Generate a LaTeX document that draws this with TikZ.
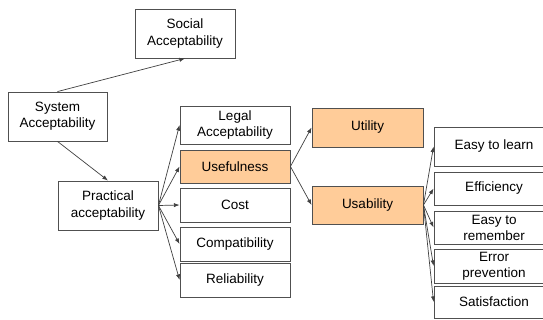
\documentclass[tikz,border=0pt]{standalone}
\usepackage{fontspec}
\setmainfont{Liberation Sans}
\usepackage{tikz}
\usetikzlibrary{arrows.meta}
\definecolor{boxorange}{HTML}{FFCC99}
\definecolor{boxline}{HTML}{505050}
\tikzset{
    box/.style={draw=boxline, line width=0.6pt, rectangle, inner sep=0pt, align=center,
        font=\fontsize{9.6}{11.4}\selectfont},
    hot/.style={box, fill=boxorange},
    link/.style={draw=black!75, line width=0.5pt, -{Latex[length=4pt,width=3pt]}}
}

\begin{document}
\begin{tikzpicture}[x=0.025cm,y=-0.025cm]
\useasboundingbox (0,0) rectangle (543,320);
% top part
\node[box, minimum width=2.5cm, minimum height=1.225cm] (social) at (185,33.5) {Social\\Acceptability};
\node[box, minimum width=2.475cm, minimum height=1.225cm] (system) at (57.5,116.5) {System\\Acceptability};
\node[box, minimum width=2.5cm, minimum height=1.225cm] (practical) at (108,205.5) {Practical\\acceptability};
% middle column
\node[box, minimum width=2.75cm, minimum height=0.95cm] (legal) at (235,125) {Legal\\Acceptability};
\node[hot, minimum width=2.75cm, minimum height=0.825cm] (useful) at (235,166.5) {Usefulness};
\node[box, minimum width=2.75cm, minimum height=0.85cm] (cost) at (235,205) {Cost};
\node[box, minimum width=2.75cm, minimum height=0.85cm] (compat) at (235,244) {Compatibility};
\node[box, minimum width=2.75cm, minimum height=0.85cm] (reliab) at (235,280) {Reliability};
% usefulness split
\node[hot, minimum width=2.775cm, minimum height=0.975cm] (utility) at (367.5,127.5) {Utility};
\node[hot, minimum width=2.775cm, minimum height=0.95cm] (usability) at (367.5,205) {Usability};
% right column (runs off the page)
\node[box, minimum width=3cm, minimum height=0.975cm] (learn) at (494,146.5) {Easy to learn};
\node[box, minimum width=3cm, minimum height=0.825cm] (effic) at (494,188.5) {Efficiency};
\node[box, minimum width=3cm, minimum height=0.825cm] (remember) at (494,227.5) {Easy to\\remember};
\node[box, minimum width=3cm, minimum height=0.85cm] (error) at (494,266) {Error\\prevention};
\node[box, minimum width=3cm, minimum height=0.8cm] (satisf) at (494,302) {Satisfaction};

\draw[link] (system.north) -- (social.south);
\draw[link] (system.south) -- (practical.north);
\foreach \t in {legal,useful,cost,compat,reliab}
    \draw[link] (practical.east) -- (\t.west);
\foreach \t in {utility,usability}
    \draw[link] (useful.east) -- (\t.west);
\foreach \t in {learn,effic,remember,error,satisf}
    \draw[link] (usability.east) -- (\t.west);
\end{tikzpicture}
\end{document}
